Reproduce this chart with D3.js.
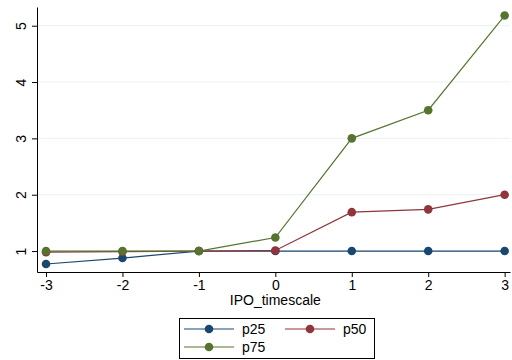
<!DOCTYPE html>
<html>
<head>
<meta charset="utf-8">
<script src="https://cdn.jsdelivr.net/npm/d3@7"></script>
<style>
  html, body { margin: 0; padding: 0; background: #fff; }
  svg { display: block; font-family: "Liberation Sans", Arial, sans-serif; }
</style>
</head>
<body>
<svg id="chart" width="512" height="360"></svg>
<script>
// Event time relative to IPO
const timescale = [-3, -2, -1, 0, 1, 2, 3];
// Percentiles of the outcome at each event time
const p25 = [0.77, 0.876, 1.0, 1.0, 1.0, 1.0, 1.0];
const p50 = [0.98, 0.99, 1.0, 1.01, 1.69, 1.74, 2.0];
const p75 = [1.0, 1.0, 1.0, 1.24, 3.0, 3.5, 5.18];
const yTicks = [1, 2, 3, 4, 5];
const seriesNames = ["p25", "p50", "p75"];
const seriesColors = ["#1a476f", "#90353b", "#55752f"];

const series = [p25, p50, p75].map((vals, i) => ({
  name: seriesNames[i],
  color: seriesColors[i],
  points: timescale.map((t, j) => ({ t, v: vals[j] }))
}));

const svg = d3.select("#chart");
const plot = { left: 37, right: 510, top: 7, bottom: 272 };
const fontSize = 14;

const x = d3.scaleLinear().domain([-3.118, 3.07]).range([plot.left, plot.right]);
const y = d3.scaleLinear().domain([0.628, 5.332]).range([plot.bottom, plot.top]);

// gridlines
svg.append("g")
  .selectAll("line")
  .data(yTicks)
  .join("line")
  .attr("x1", plot.left + 1).attr("x2", plot.right)
  .attr("y1", d => y(d)).attr("y2", d => y(d))
  .attr("stroke", "#eaf2f3").attr("stroke-width", 1);

// y axis
const yAxis = svg.append("g")
  .attr("transform", `translate(${plot.left},0)`)
  .call(d3.axisLeft(y).tickValues(yTicks).tickFormat(d3.format("d"))
    .tickSize(5).tickSizeOuter(0).tickPadding(4));
yAxis.select(".domain").attr("stroke", "#000");
yAxis.selectAll(".tick line").attr("stroke", "#000");
yAxis.selectAll(".tick text")
  .attr("font-size", fontSize)
  .attr("fill", "#000")
  .attr("font-family", "Liberation Sans, Arial, sans-serif")
  .attr("text-anchor", "middle")
  .attr("x", null).attr("dy", null)
  .attr("transform", "translate(-16,0) rotate(-90)")
  .attr("dominant-baseline", "central");

// x axis
const xAxis = svg.append("g")
  .attr("transform", `translate(0,${plot.bottom})`)
  .call(d3.axisBottom(x).tickValues(timescale).tickSize(5).tickSizeOuter(0).tickPadding(3)
    .tickFormat(d3.format("d")));
xAxis.select(".domain").attr("stroke", "#000");
xAxis.selectAll(".tick line").attr("stroke", "#000");
xAxis.selectAll(".tick text")
  .attr("font-size", fontSize)
  .attr("fill", "#000")
  .attr("font-family", "Liberation Sans, Arial, sans-serif")
  .text(d => d < 0 ? "-" + Math.abs(d) : String(d));

// axis title
svg.append("text")
  .attr("x", x(0)).attr("y", 305)
  .attr("text-anchor", "middle")
  .attr("font-size", fontSize)
  .text("IPO_timescale");

// lines and markers
const line = d3.line().x(d => x(d.t)).y(d => y(d.v));
const g = svg.append("g");
series.forEach(s => {
  g.append("path")
    .datum(s.points)
    .attr("d", line)
    .attr("fill", "none")
    .attr("stroke", s.color)
    .attr("stroke-width", 1.2);
});
series.forEach(s => {
  g.selectAll(null)
    .data(s.points)
    .join("circle")
    .attr("cx", d => x(d.t)).attr("cy", d => y(d.v))
    .attr("r", 4.3)
    .attr("fill", s.color);
});

// legend
const legend = svg.append("g");
legend.append("rect")
  .attr("x", 179.5).attr("y", 318.5).attr("width", 195).attr("height", 40)
  .attr("fill", "#fff").attr("stroke", "#000").attr("stroke-width", 1);
const legendPos = [
  { x: 184, y: 329 },
  { x: 285, y: 329 },
  { x: 184, y: 347 }
];
series.forEach((s, i) => {
  const p = legendPos[i];
  legend.append("line")
    .attr("x1", p.x).attr("x2", p.x + 50)
    .attr("y1", p.y).attr("y2", p.y)
    .attr("stroke", s.color).attr("stroke-width", 1.2);
  legend.append("circle")
    .attr("cx", p.x + 25).attr("cy", p.y).attr("r", 4.3)
    .attr("fill", s.color);
  legend.append("text")
    .attr("x", p.x + 58).attr("y", p.y)
    .attr("dominant-baseline", "central")
    .attr("font-size", fontSize)
    .text(s.name);
});
</script>
</body>
</html>
